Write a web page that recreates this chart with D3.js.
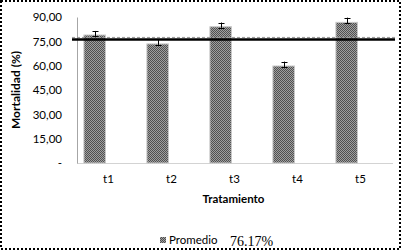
<!DOCTYPE html>
<html>
<head>
<meta charset="utf-8">
<script src="https://cdn.jsdelivr.net/npm/d3@7"></script>
<style>
  body { margin: 0; background: #fff; }
  svg { display: block; }
</style>
</head>
<body>
<div id="chart"></div>
<script>
// Data
const categories = ["t1", "t2", "t3", "t4", "t5"];
const promedio = [78.9, 73.4, 84.0, 59.8, 86.7];
const errorPlus = [2.5, 3.0, 2.6, 2.7, 2.9];
const series = ["Promedio", "Media"];
const mediaGeneral = 76.17;
const yTicks = [0, 15, 30, 45, 60, 75, 90];

const width = 403, height = 251;
const margin = { top: 17, right: 11, bottom: 88, left: 77 };

const svg = d3.select("#chart").append("svg")
	.attr("width", width)
	.attr("height", height);

// checkered fill like the Excel pattern
const defs = svg.append("defs");
const pat = defs.append("pattern")
	.attr("id", "checker")
	.attr("width", 2)
	.attr("height", 2)
	.attr("patternUnits", "userSpaceOnUse");
pat.append("rect").attr("width", 2).attr("height", 2).attr("fill", "#a0a0a0");
pat.append("rect").attr("width", 1).attr("height", 1).attr("fill", "#505050");
pat.append("rect").attr("x", 1).attr("y", 1).attr("width", 1).attr("height", 1).attr("fill", "#505050");

// outer dotted frame
svg.append("rect")
	.attr("x", 1).attr("y", 1)
	.attr("width", 399).attr("height", 248)
	.attr("fill", "none")
	.attr("stroke", "#000")
	.attr("stroke-width", 2)
	.attr("stroke-dasharray", "2,2");

const x = d3.scaleBand()
	.domain(categories)
	.range([margin.left, width - margin.right])
	.padding(0);

const x1 = d3.scaleBand()
	.domain(series)
	.range([0, x.bandwidth()])
	.paddingInner(0.22)
	.paddingOuter(0.25);

const y = d3.scaleLinear()
	.domain([0, 90])
	.range([height - margin.bottom, margin.top]);

const fmt = d => d === 0 ? "-" : d3.format(".2f")(d).replace(".", ",");

// y axis
const yAxis = svg.append("g")
	.attr("class", "y axis")
	.attr("transform", "translate(" + margin.left + ",0)")
	.call(d3.axisLeft(y).tickValues(yTicks).tickFormat(fmt).tickSize(0).tickPadding(15));
yAxis.select(".domain").attr("stroke", "#a6a6a6");
yAxis.selectAll("text")
	.attr("font-family", "Lato, 'Open Sans', sans-serif")
	.attr("font-size", 11.5)
	.attr("fill", "#000");

// x axis
const xAxis = svg.append("g")
	.attr("class", "x axis")
	.attr("transform", "translate(0," + y(0) + ")")
	.call(d3.axisBottom(x).tickSize(0).tickPadding(12));
xAxis.select(".domain").attr("stroke", "#a6a6a6").attr("stroke-dasharray", "1,1");
xAxis.selectAll("text")
	.attr("font-family", "Lato, 'Open Sans', sans-serif")
	.attr("font-size", 11.5)
	.attr("fill", "#000");

// bars
const barData = categories.map((c, i) => ({ label: c, value: promedio[i], err: errorPlus[i] }));

const gBars = svg.append("g").classed("bars", true);
gBars.selectAll("rect.bar")
	.data(barData)
	.enter()
	.append("rect")
	.classed("bar", true)
	.attr("x", d => x(d.label) + x1("Promedio"))
	.attr("y", d => y(d.value))
	.attr("width", x1.bandwidth())
	.attr("height", d => y(0) - y(d.value))
	.attr("fill", "url(#checker)")
	.attr("stroke", "#c8c8c8")
	.attr("stroke-width", 1);

// error bars (plus direction)
const gErr = svg.append("g").classed("errors", true);
const cx = d => Math.round(x(d.label) + x1("Promedio") + x1.bandwidth() / 2) + 0.5;
gErr.selectAll("line.stem")
	.data(barData)
	.enter()
	.append("line")
	.attr("x1", cx).attr("x2", cx)
	.attr("y1", d => y(d.value) + 1)
	.attr("y2", d => y(d.value + d.err))
	.attr("stroke", "#000");
gErr.selectAll("line.cap")
	.data(barData)
	.enter()
	.append("line")
	.attr("x1", d => cx(d) - 3).attr("x2", d => cx(d) + 3)
	.attr("y1", d => Math.round(y(d.value + d.err)) + 0.5)
	.attr("y2", d => Math.round(y(d.value + d.err)) + 0.5)
	.attr("stroke", "#000");
gErr.selectAll("line.base")
	.data(barData)
	.enter()
	.append("line")
	.attr("x1", d => cx(d) - 3).attr("x2", d => cx(d) + 3)
	.attr("y1", d => Math.round(y(d.value)) + 1.5)
	.attr("y2", d => Math.round(y(d.value)) + 1.5)
	.attr("stroke", "#000");

// overall mean line
svg.append("line")
	.attr("x1", 72).attr("x2", 395)
	.attr("y1", y(mediaGeneral) - 2).attr("y2", y(mediaGeneral) - 2)
	.attr("stroke", "#999")
	.attr("stroke-dasharray", "3,2");
svg.append("line")
	.attr("x1", 72).attr("x2", 395)
	.attr("y1", y(mediaGeneral)).attr("y2", y(mediaGeneral))
	.attr("stroke", "#000")
	.attr("stroke-width", 2.5);

// axis titles
svg.append("text")
	.attr("x", x.range()[0] + (x.range()[1] - x.range()[0]) / 2 - 1)
	.attr("y", 203)
	.attr("text-anchor", "middle")
	.attr("font-family", "Lato, 'Open Sans', sans-serif")
	.attr("font-weight", "bold")
	.attr("font-size", 11.5)
	.text("Tratamiento");

svg.append("text")
	.attr("transform", "translate(20," + (margin.top + (y(0) - margin.top) / 2) + ") rotate(-90)")
	.attr("text-anchor", "middle")
	.attr("font-family", "Lato, 'Open Sans', sans-serif")
	.attr("font-weight", "bold")
	.attr("font-size", 12)
	.text("Mortalidad (%)");

// legend
const legend = svg.append("g").attr("class", "legend");
legend.append("rect")
	.attr("x", 160).attr("y", 237)
	.attr("width", 6).attr("height", 6)
	.attr("fill", "url(#checker)");
legend.append("text")
	.attr("x", 169).attr("y", 244)
	.attr("font-family", "Lato, 'Open Sans', sans-serif")
	.attr("font-size", 11.5)
	.text(series[0]);
legend.append("text")
	.attr("x", 230).attr("y", 246)
	.attr("font-family", "'Liberation Serif', 'DejaVu Serif', serif")
	.attr("font-size", 14)
	.text(d3.format(".2f")(mediaGeneral) + "%");
</script>
</body>
</html>
